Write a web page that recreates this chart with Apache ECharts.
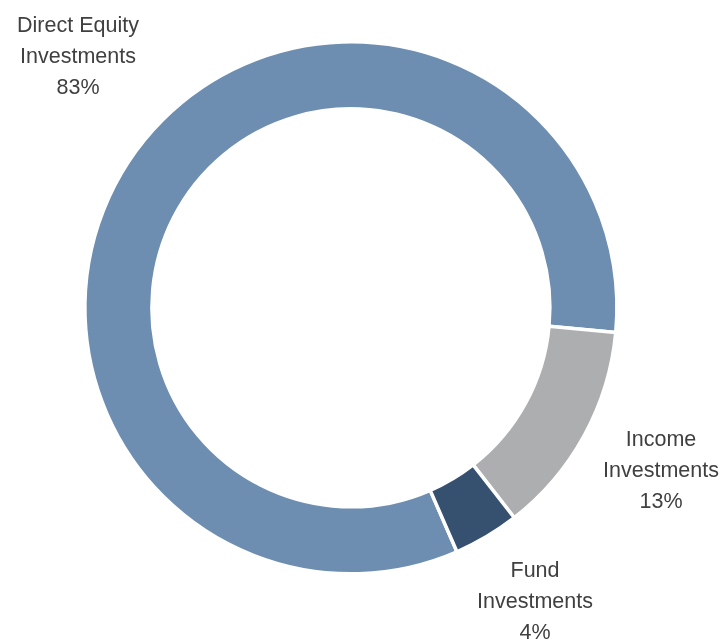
<!DOCTYPE html>
<html>
<head>
<meta charset="utf-8">
<script src="https://cdn.jsdelivr.net/npm/echarts@6/dist/echarts.min.js"></script>
<style>
  html, body { margin: 0; padding: 0; background: #fff; }
  #donut { width: 722px; height: 644px; }
</style>
</head>
<body>
<div id="donut"></div>
<script>
// 数据
var categories = ["Direct Equity\nInvestments", "Income\nInvestments", "Fund\nInvestments"];
var shares = [83, 13, 4];
var sliceColors = ["#6d8db1", "#adaeb0", "#36506f"];

var chartDom = document.getElementById("donut");
var myChart = echarts.init(chartDom);
var option;

// label centres, placed like the original's best-fit labels
var labelSpots = [
  [78, 57],
  [661, 471],
  [535, 602],
];

option = {
  animation: false,
  series: [
    {
      type: "pie",
      center: ["48.6%", "47.8%"],
      radius: [199, 266],
      startAngle: -66.5,
      clockwise: true,
      avoidLabelOverlap: false,
      itemStyle: {
        borderColor: "#fff",
        borderWidth: 3.5,
      },
      label: {
        show: true,
        position: "outside",
        formatter: "{b}\n{c}%",
        fontFamily: "Liberation Sans, Arial, sans-serif",
        fontSize: 21.5,
        lineHeight: 31,
        color: "#404040",
        align: "center",
      },
      labelLine: { show: false },
      labelLayout: function (params) {
        var p = labelSpots[params.dataIndex];
        return { x: p[0], y: p[1], align: "center", verticalAlign: "middle" };
      },
      emphasis: { disabled: true },
      data: categories.map(function (name, i) {
        return { name: name, value: shares[i], itemStyle: { color: sliceColors[i] } };
      }),
    },
  ],
};

myChart.setOption(option);
</script>
</body>
</html>
